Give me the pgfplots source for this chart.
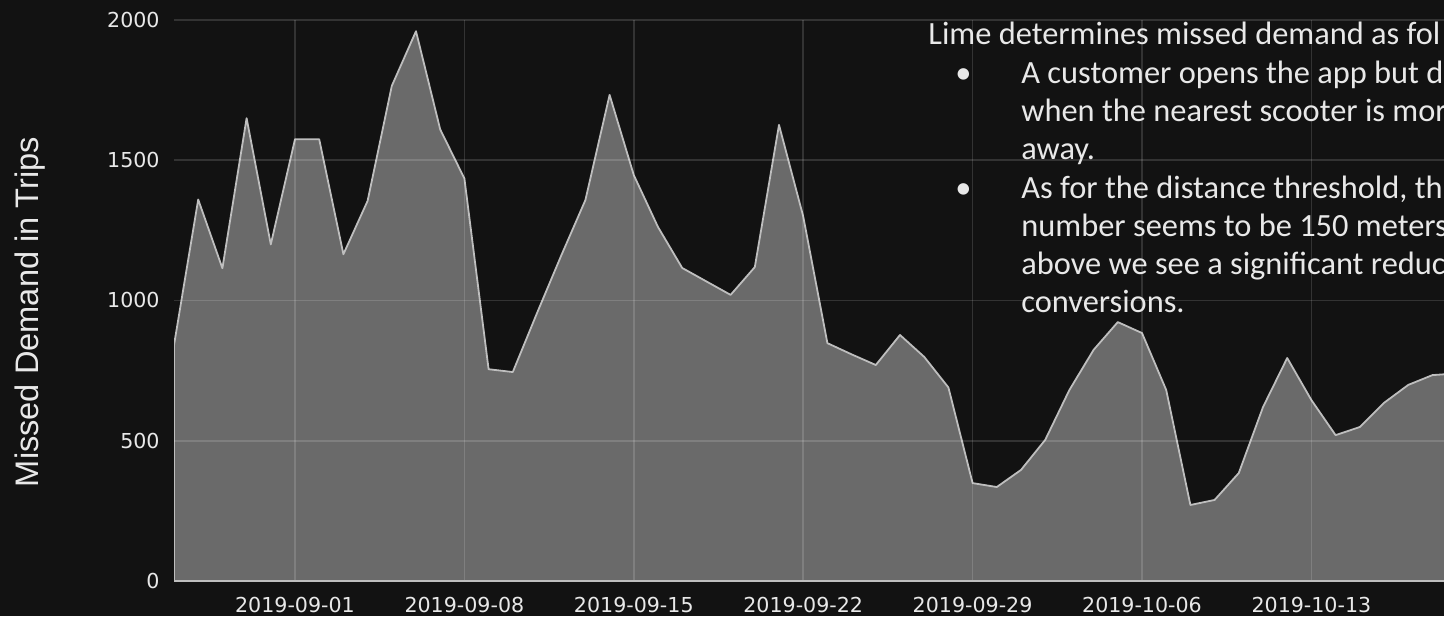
\documentclass[border=0pt]{standalone}
\usepackage{pgfplots}
\pgfplotsset{compat=1.18}
\usepackage{fontspec}
\setmainfont{Liberation Sans}
\newfontfamily\dejavu{DejaVu Sans}
\newfontfamily\carlito{Carlito}
\definecolor{bg}{HTML}{121212}
\definecolor{areafill}{HTML}{6A6A6A}
\definecolor{areaedge}{HTML}{BEBEBE}
\definecolor{txt}{HTML}{E8E8E8}
\pgfplotstableread{
d v
-5 841
-4 1360
-3 1115
-2 1650
-1 1200
0 1575
1 1575
2 1165
3 1355
4 1765
5 1960
6 1610
7 1435
8 755
9 745
10 955
11 1160
12 1358
13 1733
14 1447
15 1262
16 1116
17 1068
18 1020
19 1119
20 1626
21 1300
22 848
23 808
24 770
25 877
26 799
27 690
28 349
29 335
30 396
31 503
32 681
33 824
34 923
35 884
36 681
37 271
38 289
39 385
40 620
41 795
42 645
43 520
44 549
45 635
46 699
47 734
48 740
}\missed
\begin{document}
\begin{tikzpicture}
\useasboundingbox (0,0) rectangle (722pt,308pt);
\fill[bg] (0,0) rectangle (722pt,308pt);
\begin{scope}
\clip (0,0) rectangle (722pt,308pt);
\begin{axis}[
  at={(87pt,17.5pt)}, anchor=south west,
  scale only axis, width=635pt, height=280.5pt,
  xmin=-5, xmax=47.48, ymin=0, ymax=2000,
  xtick={0,7,14,21,28,35,42},
  xticklabels={2019-09-01,2019-09-08,2019-09-15,2019-09-22,2019-09-29,2019-10-06,2019-10-13},
  ytick={0,500,1000,1500,2000},
  yticklabels={0,500,1000,1500,2000},
  grid=major,
  grid style={draw=white, opacity=0.14, line width=0.8pt},
  major tick length=0pt,
  axis on top,
  axis x line*=bottom, axis y line*=left,
  x axis line style={draw=areaedge, line width=1pt, -},
  y axis line style={draw=none, -},
  xticklabel style={font=\dejavu\fontsize{10.3}{12}\selectfont, text=txt, anchor=north, inner sep=0pt, yshift=-8pt},
  yticklabel style={font=\dejavu\fontsize{10.3}{12}\selectfont, text=txt, anchor=east, inner sep=0pt, xshift=-7pt},
  ylabel={Missed Demand in Trips},
  ylabel style={at={(axis description cs:-0.1134,0.4795)}, anchor=center, font=\fontsize{16.3}{19}\selectfont, text=txt},
  clip=true,
]
\addplot[fill=areafill, draw=areaedge, line width=0.9pt, line join=round] table[x=d, y=v] {\missed} \closedcycle;
\end{axis}
\begin{scope}[every node/.style={anchor=base west, inner sep=0pt, text=txt, font=\carlito\fontsize{16.2}{19}\selectfont}]
\node at (464pt,285.5pt) {Lime determines missed demand as fol};
\node at (477.5pt,266.35pt) {\textbullet};
\node at (510.5pt,266.35pt) {A customer opens the app but d};
\node at (510.5pt,247.2pt) {when the nearest scooter is mor};
\node at (510.5pt,228pt) {away.};
\node at (477.5pt,208.9pt) {\textbullet};
\node at (510.5pt,208.9pt) {As for the distance threshold, th};
\node at (510.5pt,189.75pt) {number seems to be 150 meters};
\node at (510.5pt,170.6pt) {above we see a significant reduc};
\node at (510.5pt,151.5pt) {conversions.};
\end{scope}
\end{scope}
\end{tikzpicture}
\end{document}
